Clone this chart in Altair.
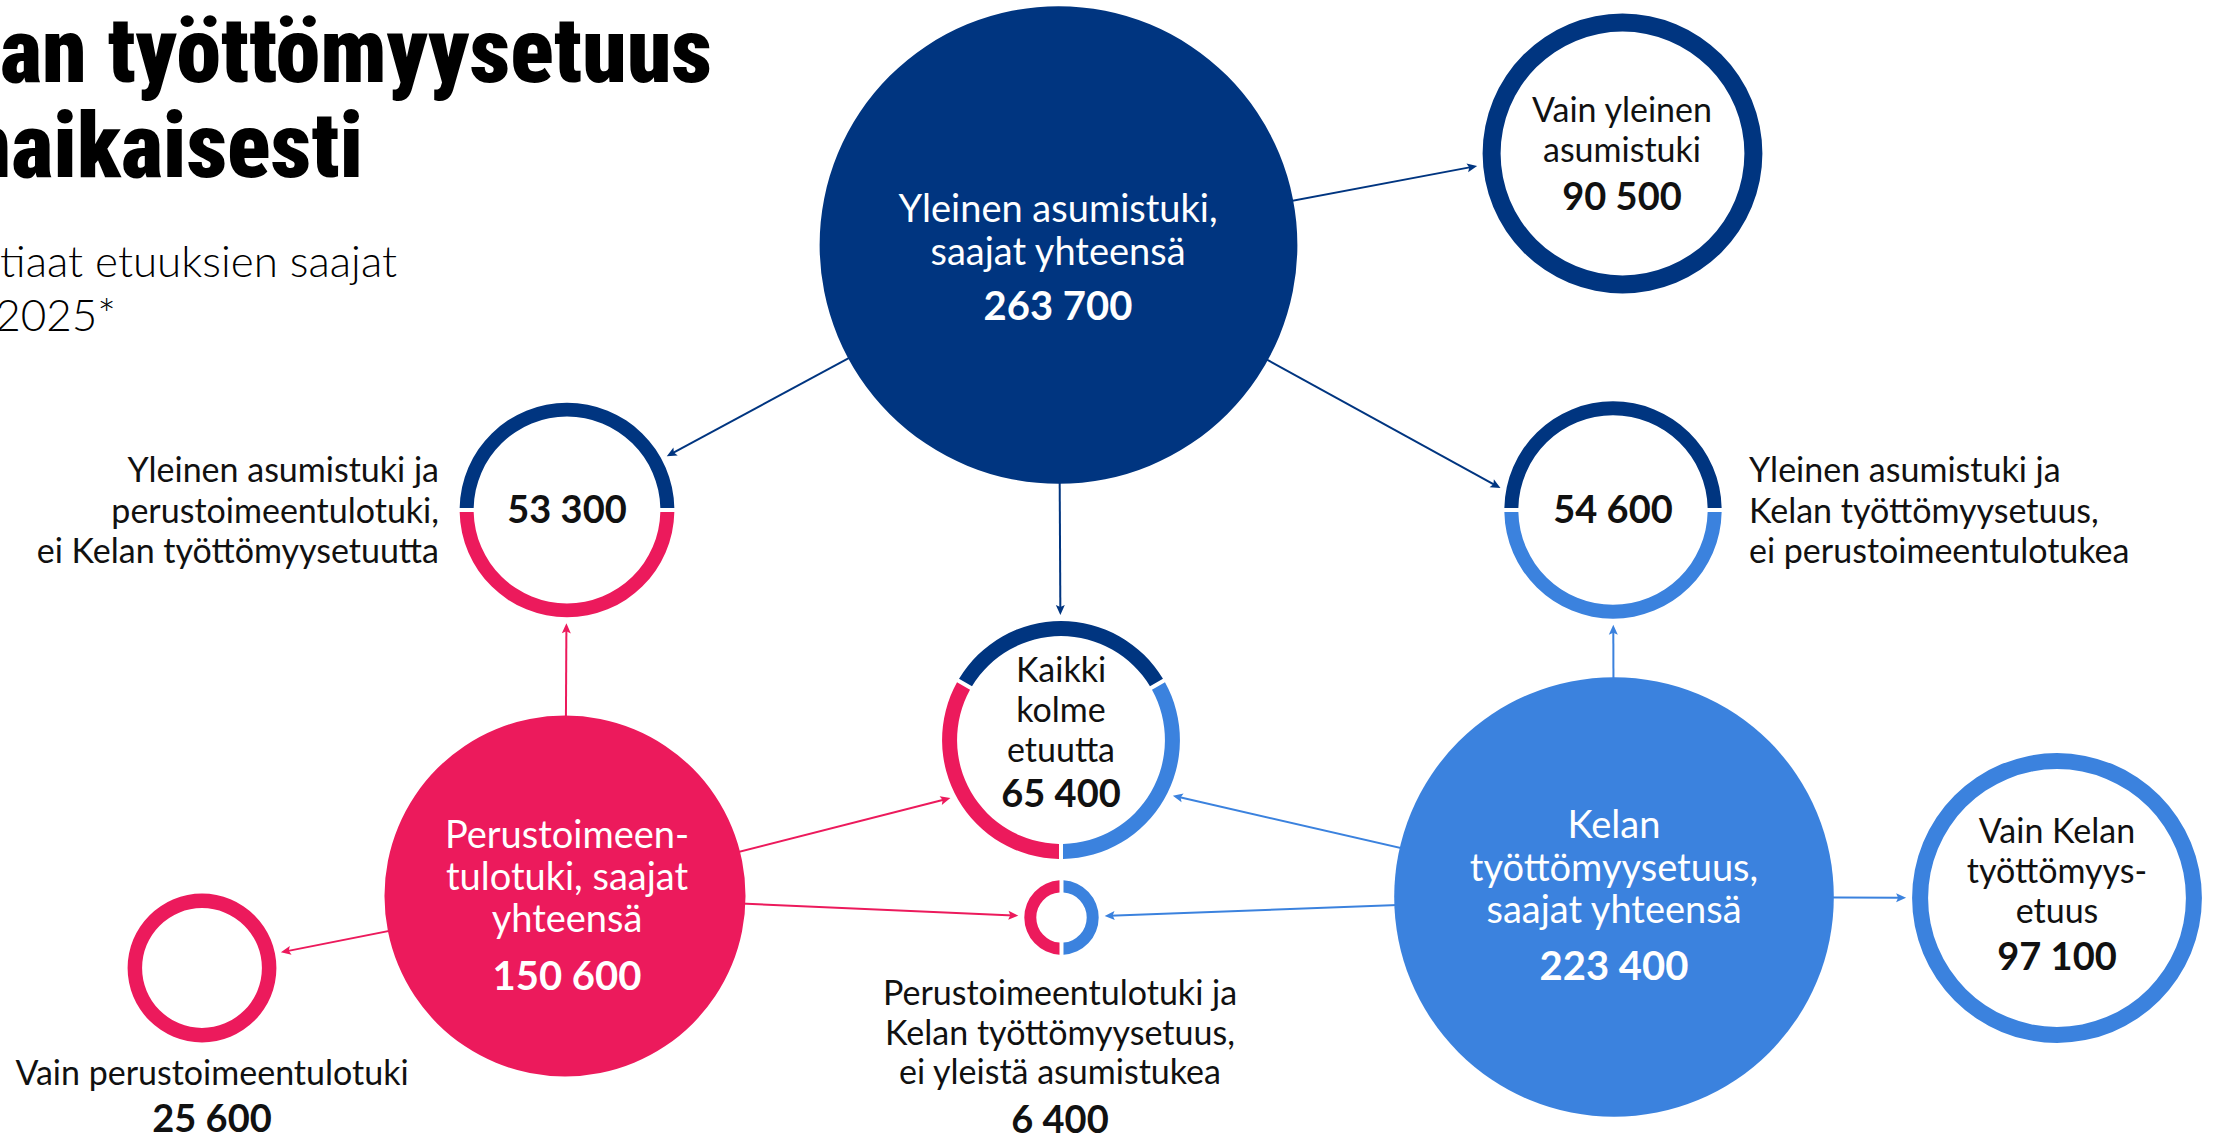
import math
import altair as alt
import pandas as pd

W, H = 2222, 1138

# ---------------- data ----------------
BENEFITS = ["Yleinen asumistuki", "Perustoimeentulotuki", "Kelan työttömyysetuus"]
BENEFIT_COLORS = ["#003580", "#ec1a5c", "#3b82de"]

NODE_IDS = ["Y", "P", "K", "VY", "VP", "VK", "YP", "YK", "PK", "ALL"]
NODE_VALUES = [263700, 150600, 223400, 90500, 25600, 97100, 53300, 54600, 6400, 65400]
NODE_LABELS = [
    ["Yleinen asumistuki,", "saajat yhteensä"],
    ["Perustoimeen-", "tulotuki, saajat", "yhteensä"],
    ["Kelan", "työttömyysetuus,", "saajat yhteensä"],
    ["Vain yleinen", "asumistuki"],
    ["Vain perustoimeentulotuki"],
    ["Vain Kelan", "työttömyys-", "etuus"],
    ["Yleinen asumistuki ja", "perustoimeentulotuki,", "ei Kelan työttömyysetuutta"],
    ["Yleinen asumistuki ja", "Kelan työttömyysetuus,", "ei perustoimeentulotukea"],
    ["Perustoimeentulotuki ja", "Kelan työttömyysetuus,", "ei yleistä asumistukea"],
    ["Kaikki", "kolme", "etuutta"],
]
NODE_MEMBERS = [
    [BENEFITS[0]], [BENEFITS[1]], [BENEFITS[2]],
    [BENEFITS[0]], [BENEFITS[1]], [BENEFITS[2]],
    [BENEFITS[0], BENEFITS[1]], [BENEFITS[0], BENEFITS[2]], [BENEFITS[1], BENEFITS[2]],
    [BENEFITS[0], BENEFITS[1], BENEFITS[2]],
]
TOTAL_NODES = ["Y", "P", "K"]

EDGE_SOURCES = ["Y", "Y", "Y", "Y", "P", "P", "P", "P", "K", "K", "K", "K"]
EDGE_TARGETS = ["VY", "YP", "YK", "ALL", "YP", "ALL", "PK", "VP", "YK", "ALL", "PK", "VK"]

TITLE_LINES = ["an työttömyysetuus", "naikaisesti"]
SUBTITLE_LINES = ["tiaat etuuksien saajat", "2025*"]

# ---------------- layout / style ----------------
V_MAX = 263700
R_MAX = 238.8          # radius (px) of the largest value; circle area proportional to value
ARROW_GAP = 6
SEG_GAP = 4

NODE_POS = {
    "Y": (1058.5, 245), "P": (565, 896), "K": (1614, 897),
    "VY": (1622.5, 153.5), "VP": (202, 968), "VK": (2057, 898),
    "YP": (567, 510), "YK": (1613, 510), "PK": (1061.5, 917.5), "ALL": (1061, 740),
}
# where an arrow aims, relative to the target's centre (default: the centre)
EDGE_AIM = {("Y", "VY"): (0, -15), ("Y", "YK"): (0, 40), ("P", "ALL"): (0, 30), ("K", "ALL"): (0, 30)}
RING_THICK = {"VY": 18, "VP": 14.5, "VK": 16, "YP": 14, "YK": 14, "PK": 12, "ALL": 15}
SEGMENT_ANGLES = {  # degrees, 0 = 12 o'clock, clockwise
    ("VY", BENEFITS[0]): (0, 360), ("VP", BENEFITS[1]): (0, 360), ("VK", BENEFITS[2]): (0, 360),
    ("YP", BENEFITS[0]): (270, 450), ("YP", BENEFITS[1]): (90, 270),
    ("YK", BENEFITS[0]): (270, 450), ("YK", BENEFITS[2]): (90, 270),
    ("PK", BENEFITS[2]): (0, 180), ("PK", BENEFITS[1]): (180, 360),
    ("ALL", BENEFITS[0]): (300, 420), ("ALL", BENEFITS[2]): (60, 180), ("ALL", BENEFITS[1]): (180, 300),
}
# node: (label_x, first_baseline, line_step, label_style, number_x, number_baseline, number_style)
LABEL_LAYOUT = {
    "Y": (1058, 222, 43, "circle_label", 1058, 320, "circle_number"),
    "P": (567, 848, 42, "circle_label", 567, 990, "circle_number"),
    "K": (1614, 838, 42.5, "circle_label", 1614, 980, "circle_number"),
    "VY": (1622, 122, 40, "label_c", 1622, 210, "number"),
    "VK": (2057, 843, 40, "label_c", 2057, 970, "number"),
    "ALL": (1061, 682, 40, "label_c", 1061, 807, "number"),
    "YP": (439, 482, 40.5, "label_r", 567, 523, "number"),
    "YK": (1749, 482, 40.5, "label_l", 1613, 523, "number"),
    "PK": (1060, 1005, 39.5, "label_c", 1060, 1133, "number"),
    "VP": (212, 1085, 40, "label_c", 212, 1132, "number"),
}
TITLE_LAYOUT = [(0, 82, "title_l"), (363, 177, "title_r")]
SUBTITLE_LAYOUT = [(0, 277, "subtitle_l"), (116, 331, "subtitle_r")]

LABEL_FONT = "Lato"
TITLE_FONT = "Roboto Condensed, Open Sans Condensed, Lato"
STYLES = {
    "title_l": dict(font=TITLE_FONT, fontSize=90, fontWeight=900, color="#000000", align="left"),
    "title_r": dict(font=TITLE_FONT, fontSize=90, fontWeight=900, color="#000000", align="right"),
    "subtitle_l": dict(font=LABEL_FONT, fontSize=44, fontWeight=300, color="#000000", align="left"),
    "subtitle_r": dict(font=LABEL_FONT, fontSize=44, fontWeight=300, color="#000000", align="right"),
    "circle_label": dict(font=LABEL_FONT, fontSize=38, fontWeight="normal", color="#ffffff", align="center"),
    "circle_number": dict(font=LABEL_FONT, fontSize=40, fontWeight="bold", color="#ffffff", align="center"),
    "label_c": dict(font=LABEL_FONT, fontSize=34, fontWeight="normal", color="#111111", align="center"),
    "label_r": dict(font=LABEL_FONT, fontSize=34, fontWeight="normal", color="#111111", align="right"),
    "label_l": dict(font=LABEL_FONT, fontSize=34, fontWeight="normal", color="#111111", align="left"),
    "number": dict(font=LABEL_FONT, fontSize=38, fontWeight="bold", color="#111111", align="center"),
}
ARROW_PATH = "M0,0L-0.9,2L0,1.6L0.9,2Z"

# ---------------- tables ----------------
value_of = dict(zip(NODE_IDS, NODE_VALUES))
members_of = dict(zip(NODE_IDS, NODE_MEMBERS))


def radius_px(v):
    return R_MAX * math.sqrt(v / V_MAX)


filled_rows = []
for nid in TOTAL_NODES:
    x, y = NODE_POS[nid]
    filled_rows.append(dict(node=nid, x=x, y=y, value=value_of[nid],
                            benefit=members_of[nid][0], t0=0.0, t1=2 * math.pi))
filled_df = pd.DataFrame(filled_rows)

ring_rows = []
for nid in NODE_IDS:
    if nid in TOTAL_NODES:
        continue
    x, y = NODE_POS[nid]
    for b in members_of[nid]:
        a0, a1 = SEGMENT_ANGLES[(nid, b)]
        ring_rows.append(dict(node=nid, x=x, y=y, value=value_of[nid], benefit=b,
                              t0=math.radians(a0), t1=math.radians(a1)))
ring_df = pd.DataFrame(ring_rows)

edge_rows = []
for s, t in zip(EDGE_SOURCES, EDGE_TARGETS):
    sx, sy = NODE_POS[s]
    cx, cy = NODE_POS[t]
    ox, oy = EDGE_AIM.get((s, t), (0, 0))
    dx, dy = cx + ox - sx, cy + oy - sy
    d = math.hypot(dx, dy)
    ux, uy = dx / d, dy / d
    # first intersection of the ray with the circle (target radius + gap)
    R = radius_px(value_of[t]) + ARROW_GAP
    fx, fy = sx - cx, sy - cy
    b = fx * ux + fy * uy
    c = fx * fx + fy * fy - R * R
    dist = -b - math.sqrt(max(b * b - c, 0))
    ex, ey = sx + ux * dist, sy + uy * dist
    ang = math.degrees(math.atan2(ux, -uy)) % 360
    edge_rows.append(dict(x=sx, y=sy, x2=ex - ux * 5, y2=ey - uy * 5,
                          tipx=ex, tipy=ey, ang=ang, benefit=members_of[s][0]))
edge_df = pd.DataFrame(edge_rows)

text_rows = []
for line, (x, y, st) in zip(TITLE_LINES, TITLE_LAYOUT):
    text_rows.append(dict(x=x, y=y, text=line, style=st))
for line, (x, y, st) in zip(SUBTITLE_LINES, SUBTITLE_LAYOUT):
    text_rows.append(dict(x=x, y=y, text=line, style=st))
for nid, lines in zip(NODE_IDS, NODE_LABELS):
    lx, ly, step, lstyle, nx, ny, nstyle = LABEL_LAYOUT[nid]
    for i, line in enumerate(lines):
        text_rows.append(dict(x=lx, y=ly + i * step, text=line, style=lstyle))
    text_rows.append(dict(x=nx, y=ny, text=f"{value_of[nid]:,}".replace(",", " "), style=nstyle))
text_df = pd.DataFrame(text_rows)

# ---------------- scales ----------------
XS = alt.Scale(domain=[0, W], range=[0, W], nice=False, zero=False)
YS = alt.Scale(domain=[0, H], range=[0, H], nice=False, zero=False)
RS = alt.Scale(type="sqrt", domain=[0, V_MAX], range=[0, R_MAX], nice=False, zero=True)
CS = alt.Scale(domain=BENEFITS, range=BENEFIT_COLORS)


def xenc(f="x"):
    return alt.X(f"{f}:Q", scale=XS, axis=None)


def yenc(f="y"):
    return alt.Y(f"{f}:Q", scale=YS, axis=None)


color = alt.Color("benefit:N", scale=CS, legend=None)

layers = []

# arrow shafts (start at the source centre, hidden under the filled circle)
layers.append(
    alt.Chart(edge_df).mark_rule(strokeWidth=2).encode(
        x=xenc(), y=yenc(), x2="x2:Q", y2="y2:Q", color=color
    )
)

# filled total circles
layers.append(
    alt.Chart(filled_df).mark_arc().encode(
        x=xenc(), y=yenc(),
        theta=alt.Theta("t0:Q", scale=None, stack=None), theta2="t1:Q",
        radius=alt.Radius("value:Q", scale=RS),
        color=color,
    )
)

# rings
for nid in NODE_IDS:
    if nid in TOTAL_NODES:
        continue
    ro = radius_px(value_of[nid])
    ri = ro - RING_THICK[nid]
    pad = SEG_GAP / math.sqrt(ro * ro + ri * ri) if len(members_of[nid]) > 1 else 0
    layers.append(
        alt.Chart(ring_df[ring_df["node"] == nid]).mark_arc(
            radius2Offset=-RING_THICK[nid], padAngle=pad
        ).encode(
            x=xenc(), y=yenc(),
            theta=alt.Theta("t0:Q", scale=None, stack=None), theta2="t1:Q",
            radius=alt.Radius("value:Q", scale=RS), radius2="value:Q",
            color=color,
        )
    )

# arrow heads
layers.append(
    alt.Chart(edge_df).mark_point(
        shape=ARROW_PATH, filled=True, size=100, opacity=1, strokeWidth=0
    ).encode(
        x=xenc("tipx"), y=yenc("tipy"),
        angle=alt.Angle("ang:Q", scale=None),
        color=color,
    )
)

# texts
for style, props in STYLES.items():
    sub = text_df[text_df["style"] == style]
    if len(sub) == 0:
        continue
    layers.append(
        alt.Chart(sub).mark_text(baseline="alphabetic", **props).encode(
            x=xenc(), y=yenc(), text="text:N"
        )
    )

chart = alt.layer(*layers).properties(
    width=W, height=H, padding=0, autosize=alt.AutoSizeParams(type="none"),
    background="white",
).configure_view(stroke=None)

chart.save("out.html", embed_options={"renderer": "svg", "actions": False})
